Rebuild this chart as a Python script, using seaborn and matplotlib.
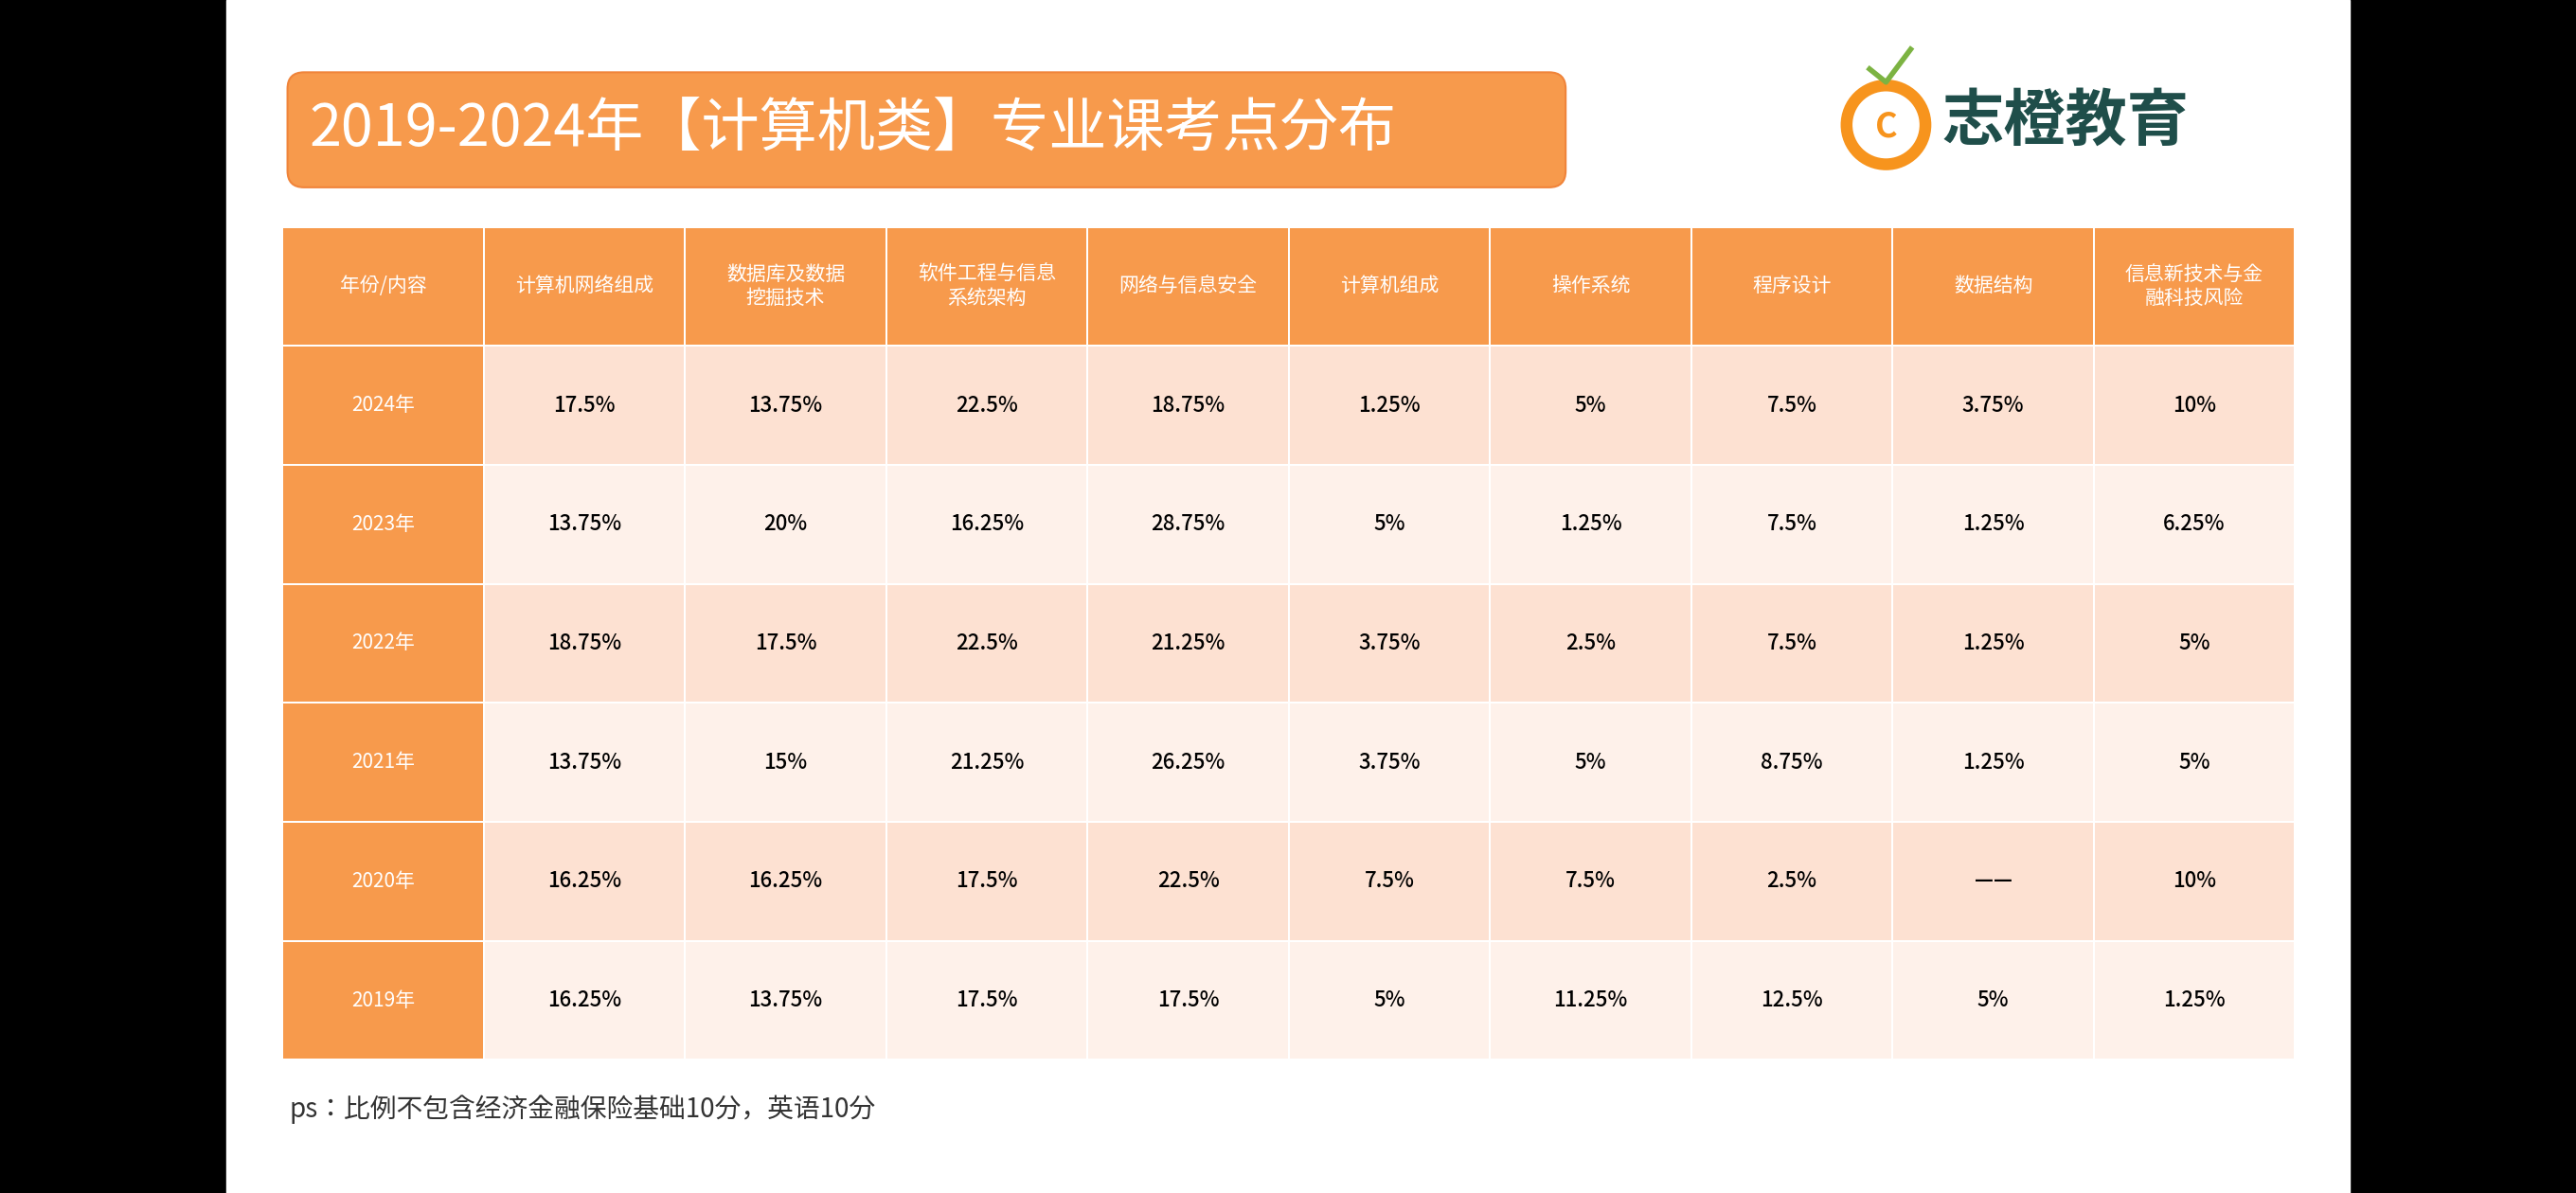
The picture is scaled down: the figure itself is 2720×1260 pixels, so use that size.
import numpy as np
import matplotlib.pyplot as plt
from matplotlib import font_manager
from matplotlib.colors import ListedColormap
from matplotlib.patches import FancyBboxPatch, Rectangle, Circle
import seaborn as sns

cjk = [f.name for f in font_manager.fontManager.ttflist if "Sans CJK" in f.name]
plt.rcParams["font.family"] = "sans-serif"
plt.rcParams["font.sans-serif"] = sorted(set(cjk), key=lambda n: "SC" not in n) + ["DejaVu Sans"]

title = "2019-2024年【计算机类】专业课考点分布"
corner = "年份/内容"
subjects = ["计算机网络组成", "数据库及数据\n挖掘技术", "软件工程与信息\n系统架构", "网络与信息安全",
            "计算机组成", "操作系统", "程序设计", "数据结构", "信息新技术与金\n融科技风险"]
years = ["2024年", "2023年", "2022年", "2021年", "2020年", "2019年"]
v2024 = ["17.5%", "13.75%", "22.5%", "18.75%", "1.25%", "5%", "7.5%", "3.75%", "10%"]
v2023 = ["13.75%", "20%", "16.25%", "28.75%", "5%", "1.25%", "7.5%", "1.25%", "6.25%"]
v2022 = ["18.75%", "17.5%", "22.5%", "21.25%", "3.75%", "2.5%", "7.5%", "1.25%", "5%"]
v2021 = ["13.75%", "15%", "21.25%", "26.25%", "3.75%", "5%", "8.75%", "1.25%", "5%"]
v2020 = ["16.25%", "16.25%", "17.5%", "22.5%", "7.5%", "7.5%", "2.5%", "——", "10%"]
v2019 = ["16.25%", "13.75%", "17.5%", "17.5%", "5%", "11.25%", "12.5%", "5%", "1.25%"]
note = "ps：比例不包含经济金融保险基础10分，英语10分"

rows = [v2024, v2023, v2022, v2021, v2020, v2019]
labels = [[corner] + subjects] + [[y] + r for y, r in zip(years, rows)]
labels = np.array(labels, dtype=object)
# 0 = orange, 1 = darker peach, 2 = light peach
codes = np.zeros(labels.shape)
for i in range(1, labels.shape[0]):
    codes[i, 1:] = 1 if i % 2 == 1 else 2

ORANGE = "#f79a4c"
fig = plt.figure(figsize=(27.2, 12.6), dpi=100, facecolor="black")
bg = fig.add_axes([0, 0, 1, 1])
bg.set_xlim(0, 1568)
bg.set_ylim(726, 0)
bg.axis("off")
bg.add_patch(Rectangle((138, 0), 1292, 726, color="white"))
bg.add_patch(FancyBboxPatch((175, 44), 778, 70, boxstyle="round,pad=0,rounding_size=10",
                            fc=ORANGE, ec="#f0843a", lw=1.5))
bg.text(188, 79, title, color="white", fontsize=44, va="center", ha="left")
bg.add_patch(Circle((1148, 76), 24, fc="none", ec="#f7941d", lw=9))
bg.text(1148, 77, "C", color="#f7941d", fontsize=26, ha="center", va="center", fontweight="bold")
bg.plot([1138, 1148, 1163], [42, 50, 30], color="#7cb342", lw=4)
bg.text(1182, 74, "志橙教育", color="#1f4e4a", fontsize=47, va="center", ha="left", fontweight="bold")
bg.text(176, 675, note, color="#333333", fontsize=20, va="center", ha="left")

ax = fig.add_axes([172 / 1568, 1 - 645 / 726, 1225 / 1568, 507 / 726])
cmap = ListedColormap([ORANGE, "#fde1d2", "#fef1ea"])
sns.heatmap(codes, ax=ax, cmap=cmap, vmin=-0.5, vmax=2.5, cbar=False,
            annot=labels, fmt="", linewidths=1.2, linecolor="white",
            annot_kws={"fontsize": 16, "color": "black", "fontweight": "medium"})
for t in ax.texts:
    r = int(t.get_position()[1])
    c = int(t.get_position()[0])
    if r == 0 or c == 0:
        t.set_color("white")
        t.set_fontsize(15)
        t.set_fontweight("normal")
ax.set_xticks([])
ax.set_yticks([])

fig.savefig("out.png", dpi=100, facecolor="black")
